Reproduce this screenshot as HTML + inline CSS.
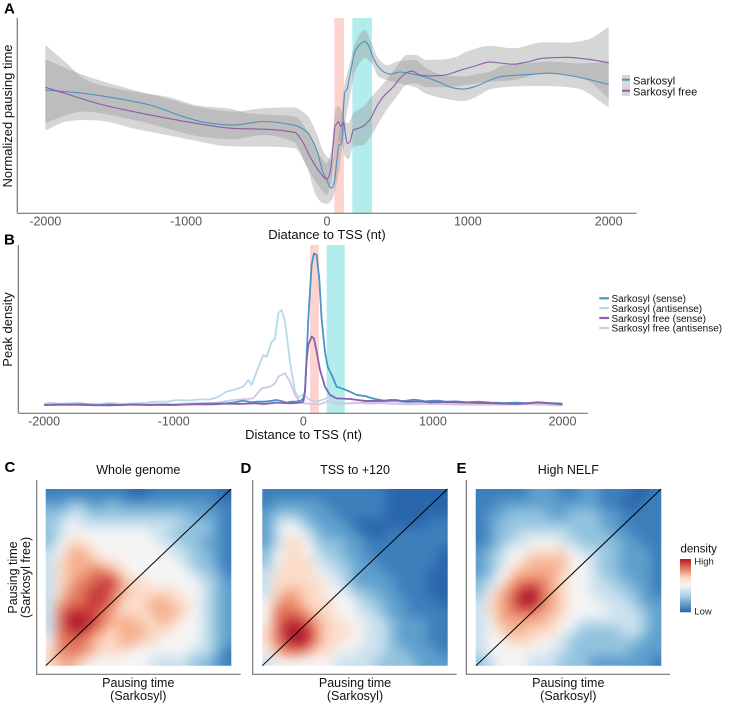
<!DOCTYPE html>
<html lang="en">
<head>
<meta charset="utf-8">
<title>Pausing time and peak density around TSS</title>
<style>
html,body{margin:0;padding:0;background:#fff;width:729px;height:706px;overflow:hidden}
svg{display:block;font-family:"Liberation Sans",Arial,sans-serif}
.tick{font-size:12.5px;fill:#555;text-anchor:middle}
.title{font-size:13px;fill:#111;text-anchor:middle}
.sub{font-size:12.5px;fill:#111;text-anchor:middle}
.panel{font-size:15px;font-weight:bold;fill:#000}
.ax{stroke:#777;stroke-width:1.2;fill:none}
</style>
</head>
<body>
<svg id="figure" width="729" height="706" viewBox="0 0 729 706" xmlns="http://www.w3.org/2000/svg">
  <defs>
    <filter id="soft" filterUnits="userSpaceOnUse" x="0" y="440" width="729" height="266" color-interpolation-filters="sRGB">
      <feGaussianBlur stdDeviation="6"/>
    </filter>
    <clipPath id="clip-c"><rect x="45.7" y="489" width="185.6" height="176.7"/></clipPath>
    <clipPath id="clip-d"><rect x="262.3" y="489" width="185.4" height="176.7"/></clipPath>
    <clipPath id="clip-e"><rect x="475.7" y="489" width="185.6" height="176.7"/></clipPath>
    <linearGradient id="density-gradient" x1="0" y1="0" x2="0" y2="1">
      <stop offset="0" stop-color="#b2182b"/>
      <stop offset=".18" stop-color="#e2795d"/>
      <stop offset=".36" stop-color="#fbdcc9"/>
      <stop offset=".5" stop-color="#f5f5f5"/>
      <stop offset=".7" stop-color="#a6cee3"/>
      <stop offset="1" stop-color="#2a66ab"/>
    </linearGradient>
  </defs>

  <text class="panel" x="4" y="13.5">A</text>
  <g id="panel-a"></g>
  <line class="ax" x1="17.3" y1="18" x2="17.3" y2="213.3"/>
  <line class="ax" x1="17.3" y1="213.3" x2="636.7" y2="213.3"/>
  <g id="ticks-a"></g>
  <text class="title" x="327" y="239">Diatance to TSS (nt)</text>
  <text class="title" transform="translate(12,116) rotate(-90)">Normalized pausing time</text>

  <g>
    <rect x="622" y="75" width="8" height="10.5" fill="#d7d7d7"/>
    <rect x="622" y="85.5" width="8" height="10.5" fill="#d7d7d7"/>
    <line x1="622" x2="630" y1="79.7" y2="79.7" stroke="#4b93c3" stroke-width="2"/>
    <line x1="622" x2="630" y1="90.7" y2="90.7" stroke="#8a5ea8" stroke-width="2"/>
    <text x="633" y="84.5" font-size="11" fill="#111">Sarkosyl</text>
    <text x="633" y="95.5" font-size="11" fill="#111">Sarkosyl free</text>
  </g>

  <text class="panel" x="4" y="244.5">B</text>
  <g id="panel-b"></g>
  <line class="ax" x1="18.3" y1="245" x2="18.3" y2="413.3"/>
  <line class="ax" x1="18.3" y1="413.3" x2="588" y2="413.3"/>
  <g id="ticks-b"></g>
  <text class="title" x="303.5" y="439">Distance to TSS (nt)</text>
  <text class="title" transform="translate(12,329.5) rotate(-90)">Peak density</text>

  <g font-size="10" fill="#111">
    <line x1="599.3" x2="609" y1="298.3" y2="298.3" stroke="#4a94c6" stroke-width="2.2"/>
    <line x1="599.3" x2="609" y1="308.2" y2="308.2" stroke="#b7d9ea" stroke-width="2.2"/>
    <line x1="599.3" x2="609" y1="318" y2="318" stroke="#8a5fae" stroke-width="2.2"/>
    <line x1="599.3" x2="609" y1="328" y2="328" stroke="#d7c4e3" stroke-width="2.2"/>
    <text x="611.5" y="302">Sarkosyl (sense)</text>
    <text x="611.5" y="312">Sarkosyl (antisense)</text>
    <text x="611.5" y="321.8">Sarkosyl free (sense)</text>
    <text x="611.5" y="331.7">Sarkosyl free (antisense)</text>
  </g>

  <text class="panel" x="4.5" y="472">C</text>
  <text class="panel" x="240.5" y="473">D</text>
  <text class="panel" x="456.5" y="473">E</text>

  <text class="sub" x="138.3" y="474">Whole genome</text>
  <text class="sub" x="355" y="474">TSS to +120</text>
  <text class="sub" x="568.3" y="474">High NELF</text>

  <g clip-path="url(#clip-c)"><g id="heat-c" filter="url(#soft)"></g></g>
  <g clip-path="url(#clip-d)"><g id="heat-d" filter="url(#soft)"></g></g>
  <g clip-path="url(#clip-e)"><g id="heat-e" filter="url(#soft)"></g></g>

  <line x1="45.7" y1="665.7" x2="231" y2="489" stroke="#000" stroke-width="1"/>
  <line x1="262.3" y1="665.7" x2="447.5" y2="489" stroke="#000" stroke-width="1"/>
  <line x1="476" y1="665.7" x2="661" y2="489" stroke="#000" stroke-width="1"/>

  <path class="ax" d="M36.7 480V674.3H240.7"/>
  <path class="ax" d="M252.7 480V674.3H456.7"/>
  <path class="ax" d="M466.3 480V674.3H670"/>

  <text class="sub" x="138.3" y="687">Pausing time</text>
  <text class="sub" x="138.3" y="700">(Sarkosyl)</text>
  <text class="sub" x="355" y="687">Pausing time</text>
  <text class="sub" x="355" y="700">(Sarkosyl)</text>
  <text class="sub" x="568.3" y="687">Pausing time</text>
  <text class="sub" x="568.3" y="700">(Sarkosyl)</text>
  <text class="sub" transform="translate(17,577.5) rotate(-90)">Pausing time</text>
  <text class="sub" transform="translate(30,577.5) rotate(-90)">(Sarkosyl free)</text>

  <g>
    <text x="680.5" y="552.5" font-size="11.5" fill="#111">density</text>
    <rect x="680" y="559" width="11" height="53.3" fill="url(#density-gradient)"/>
    <text x="694.3" y="564.5" font-size="9.5" fill="#222">High</text>
    <text x="694.3" y="614.5" font-size="9.5" fill="#222">Low</text>
  </g>
</svg>

<script>
// ---------- shared ----------
var xTicks = [-2000, -1000, 0, 1000, 2000];
var pinkRegion = [52, 120];
var tealRegion = [180, 320];

// ---------- panel A ----------
var sarkosylX = [-2000,-1730,-1493,-1257,-1020,-854,-665,-452,-239,-144,-73,-26,0,21,33,50,68,85,100,111,118,128,140,163,199,234,270,293,329,364,412,447,518,612,707,801,896,967,1061,1156,1250,1416,1582,1700,1842,2000];
var sarkosylY = [41.1,40,38.3,36.1,32.2,30.2,29.4,30.6,29.4,27.2,21.1,13.3,11.1,8.7,8.4,10,16.7,22.8,23.1,26.7,35.6,40.6,41.1,46.1,53.9,56.3,57.3,56.1,51.7,48.9,46.9,46.4,47.1,46.4,45.3,43.6,41.8,41.4,42.4,44.4,45.7,46.2,46.7,46.1,44.8,42.9];
var freeX = [-2000,-1848,-1612,-1375,-1138,-902,-665,-428,-227,-180,-121,-62,0,21,45,57,69,80,97,118,128,144,163,187,222,258,305,353,400,471,518,566,601,660,731,826,897,968,1039,1157,1228,1323,1418,1536,1702,1844,2000];
var freeY = [42,39.8,36.4,33.9,31.7,29.8,28.3,28,26.9,24.4,18.9,14.4,11.4,13.3,23.3,29.1,29.8,30.6,28.9,30.4,27.2,23.3,23.9,27.8,28.3,29.1,31.3,35.6,38.9,42.2,45,46.9,47.4,46.1,45.8,46,46.9,48,48.9,50.4,50.1,49.7,50.4,51.7,52,51.4,50.2];

var sarkosylBandX = [-2000,-1730,-1375,-1138,-902,-665,-452,-239,-144,-73,-26,0,33,69,97,118,163,199,270,317,364,424,518,626,707,826,967,1063,1156,1250,1416,1582,1771,2000];
var sarkosylUpper = [51.3,46.1,41.1,38.3,35.3,33.9,35,35.3,32.8,26.7,20.6,18.9,17.8,23.3,30,41.1,50,56.7,61.1,56.7,51.7,49.4,50.8,51.1,48.3,46.1,45.6,46.4,47.2,49.4,50,50.6,50,50.4];
var sarkosylLower = [30.2,33.9,31.1,28.3,25.6,24.7,26.1,23.9,15.6,5.6,3.3,3.1,4.4,10,17.8,26.7,38.9,47.2,51.7,50,45.6,44.4,43.3,42,39.8,38.3,37.4,38.9,41.3,42,42.4,42.4,41.7,35.3];

var freeBandX = [-2000,-1848,-1730,-1612,-1375,-1138,-902,-712,-545,-379,-227,-144,-73,0,33,57,81,104,128,152,187,258,317,400,495,566,626,708,826,920,991,1157,1323,1536,1702,1844,2000];
var freeUpper = [56.1,50,45,42.8,40.6,38.9,35.8,35,33.3,32.8,32.2,27.8,21.1,16.7,22.2,33.9,35.8,33.9,30.6,30,33.3,35.6,38.9,43.3,48.9,52.8,52.8,51.1,51.3,52.2,53.9,55.8,55,57,56.9,57.8,62.2];
var freeLower = [27.6,30.6,31.1,30.9,28.3,26.1,23.9,22.4,22.2,22.2,21.7,15.6,10,6.1,11.1,21.1,23.9,22.8,18.9,18,22.2,22.8,26.1,32.8,38.9,42.8,43.3,42,42,42.4,42.8,43.9,44.4,46.7,46.1,44.4,38.3];

// ---------- panel B ----------
var senseX = [-2000,-1900,-1800,-1700,-1600,-1500,-1400,-1300,-1200,-1100,-1000,-900,-800,-700,-600,-540,-463,-400,-350,-300,-250,-206,-170,-130,-100,-60,-20,0,13,39,64,82,103,123,141,167,188,219,257,309,360,412,476,532,580,622,670,720,760,802,850,900,940,982,1040,1100,1180,1265,1350,1450,1550,1651,1730,1800,1900,1985,2000];
var senseY = [0,.4,.2,.5,-.2,.3,0,.4,0,.3,0,.4,.7,.9,1.1,1.6,2.9,1.8,2.2,2.2,2.7,3.3,2.7,1.6,2.2,2.2,2.9,4.4,8.9,57.8,93.3,101.1,100,84.4,57.8,35.6,25.6,20,12.2,10.7,8.9,6.7,6,4.4,3.6,2.9,3.4,3.3,2.6,2.9,3.6,3.1,2.4,2.7,2.9,2.2,2.4,1.8,2.2,1.6,1.3,1.6,1.1,1.8,1.3,1.1,.7];
var antisenseX = [-2000,-1950,-1900,-1820,-1749,-1680,-1569,-1500,-1400,-1312,-1220,-1132,-1050,-977,-890,-797,-730,-669,-592,-540,-463,-424,-399,-360,-309,-283,-244,-219,-193,-167,-141,-103,-64,-39,0,39,103,141,193,257,330,400,500,600,700,800,900,1000,1150,1300,1450,1600,1800,2000];
var antisenseY = [.7,1.6,.9,1.1,1.6,.9,.7,1.3,.7,1.1,1.5,2.2,2.2,3.3,3,3.8,3.6,4.9,8.9,10,12.2,16.7,13.3,22.2,33.3,32.2,42.2,44,61.1,63.3,55.6,28.9,8.9,4.9,7.1,4,2.2,3.3,4.9,2.2,1.1,1.1,1.8,1.6,1.1,1.6,1.1,.9,1.3,.4,1.1,.7,.9,.4];
var freeSenseX = [-2000,-1800,-1650,-1500,-1350,-1200,-1000,-850,-700,-600,-500,-380,-300,-200,-100,-20,0,13,25,39,64,82,103,129,167,206,257,360,476,622,720,802,900,982,1120,1265,1450,1651,1820,1920,2000];
var freeSenseY = [0,.3,-.1,-.2,.2,.1,0,.5,.4,.9,.7,1.1,.7,1.6,1.1,1.6,2.2,8.9,28.9,40,45.6,44.4,35.6,23.3,12.2,6.7,4.4,4,2.7,2.7,2.9,2.2,2.4,1.8,2,1.6,1.2,.7,1.8,1,.4];
var freeAntisenseX = [-2000,-1750,-1500,-1250,-977,-800,-669,-540,-386,-321,-257,-219,-193,-141,-103,-64,-26,0,129,193,257,400,500,600,800,1000,1250,1500,1750,2000];
var freeAntisenseY = [0,.3,0,.4,.7,1.3,1.6,3.3,4.4,11.1,12.2,14.4,18.9,21.1,15.6,6.7,2.2,1.1,.4,2.7,.4,1.6,.9,1.1,.4,.7,.2,.2,.5,-.4];

// ---------- heatmaps (rows top to bottom, density 0 low .. 10 high) ----------
var densityWholeGenome = [
[1,1,1,1,1,1,1,1,0,0,1,1,1,1,1,1,1,0],
[2,2,3,3,2,2,3,2,2,2,2,2,2,2,2,2,1,1],
[3,3,4,4,3,3,3,3,3,3,3,3,3,3,2,2,2,1],
[3,4,5,4,4,4,4,4,4,4,4,4,4,3,3,3,2,1],
[3,4,5,5,5,5,5,5,5,5,4,4,3,3,3,3,2,1],
[3,5,6,6,5,5,5,5,5,5,5,4,4,3,3,2,2,1],
[4,5,7,7,6,5,5,5,5,5,5,5,4,4,3,3,2,1],
[4,6,7,7,7,6,6,5,5,5,5,5,5,4,3,3,2,1],
[4,6,7,7,8,8,7,6,5,5,5,5,5,5,4,3,3,1],
[4,6,7,8,8,9,9,7,6,6,5,5,5,5,5,4,3,2],
[4,6,8,8,9,9,8,7,6,6,6,6,6,5,5,4,3,2],
[4,7,8,8,9,9,8,6,6,6,7,7,6,6,5,4,3,2],
[4,8,9,9,9,8,7,6,6,6,7,7,7,6,5,4,3,2],
[4,8,10,10,9,8,7,7,7,6,6,7,6,5,5,4,3,2],
[4,8,9,9,8,7,6,7,7,7,6,6,5,5,5,4,3,2],
[5,8,8,8,7,6,6,7,7,6,6,5,5,5,5,4,3,2],
[6,8,8,8,7,6,6,6,5,5,5,5,5,5,4,4,3,1],
[6,7,7,6,5,5,5,5,5,5,4,4,4,4,3,3,2,1]
];
var densityTss120 = [
[1,1,1,1,1,1,1,1,1,1,1,1,0,0,0,0,0,0],
[1,2,2,2,2,2,1,1,1,1,1,1,0,0,0,0,0,0],
[2,3,3,3,2,2,2,1,1,1,1,1,0,0,0,0,0,0],
[2,4,5,4,3,2,2,2,1,0,0,0,0,0,0,0,1,1],
[2,4,5,5,4,3,2,2,2,1,0,0,1,1,1,1,1,1],
[2,4,6,6,5,3,3,3,2,2,1,1,1,1,1,1,1,1],
[3,5,6,6,5,4,3,3,2,2,1,1,1,1,1,1,1,0],
[3,5,6,6,6,4,4,3,3,2,2,1,1,1,1,1,1,0],
[4,6,6,6,6,5,4,4,3,2,2,2,1,1,1,1,0,0],
[4,6,6,6,6,6,5,4,3,2,2,2,2,1,1,1,0,0],
[4,6,7,7,6,6,5,5,4,3,3,2,2,1,1,1,0,0],
[5,7,8,7,6,6,6,5,5,4,3,3,2,2,1,1,1,0],
[5,8,8,8,7,6,6,5,5,4,4,3,2,2,1,1,1,1],
[5,8,9,9,8,7,6,6,5,5,4,4,3,2,2,2,1,1],
[6,8,10,10,9,7,6,6,6,5,4,4,3,2,2,2,1,1],
[6,8,9,10,9,7,6,6,5,5,4,4,3,2,2,2,1,1],
[5,7,8,8,7,6,6,5,5,4,4,4,3,3,2,2,2,1],
[4,5,5,5,5,5,5,4,4,4,4,3,3,3,3,2,2,2]
];
var densityHighNelf = [
[1,1,1,1,1,2,2,2,1,1,2,2,1,1,1,0,0,1],
[1,1,2,2,2,2,2,2,2,2,2,2,1,1,0,0,1,1],
[1,2,2,3,3,3,3,2,2,3,3,3,2,2,1,1,1,1],
[1,2,3,3,3,3,3,3,3,3,3,3,2,2,1,1,1,1],
[1,2,3,3,4,4,4,4,4,3,3,3,3,2,2,1,1,1],
[1,2,3,4,4,5,5,5,4,4,3,3,3,3,2,2,1,1],
[2,3,4,5,5,6,6,6,6,5,4,4,3,3,2,2,2,1],
[2,3,4,5,6,7,7,7,7,5,5,4,3,3,2,2,2,1],
[2,3,5,6,7,7,7,7,6,5,5,4,3,3,2,2,2,1],
[3,4,5,7,8,8,8,7,6,5,5,4,4,3,3,2,2,1],
[3,5,7,8,9,10,8,7,6,5,5,4,4,4,3,3,2,1],
[4,6,7,8,10,10,8,7,6,5,5,5,4,4,4,3,2,2],
[4,6,7,8,8,8,7,7,6,5,5,5,5,4,4,4,3,2],
[4,5,7,7,7,7,7,6,5,5,4,4,4,4,4,4,3,2],
[4,5,6,7,7,6,6,6,5,4,3,3,3,3,4,4,3,2],
[4,5,5,6,6,6,5,5,4,3,3,3,3,3,3,3,2,2],
[4,5,5,5,5,5,5,4,4,3,3,3,3,3,3,2,2,2],
[3,4,5,5,5,4,4,4,3,3,3,2,2,2,2,2,2,1]
];
var densityColors = ['#2a66ab','#3d7fbb','#5f9fcd','#92c3de','#cbe1ee','#f5f5f5','#fbdcc9','#f6b090','#e2795d','#c8383a','#a80f27'];

var NS = 'http://www.w3.org/2000/svg';
function make(tag, attrs, parent) {
  var el = document.createElementNS(NS, tag);
  for (var k in attrs) el.setAttribute(k, attrs[k]);
  parent.appendChild(el);
  return el;
}

// monotone cubic path through data points
function curve(pts, start) {
  var n = pts.length, d = [], m = [], i;
  for (i = 0; i < n - 1; i++) d[i] = (pts[i + 1][1] - pts[i][1]) / (pts[i + 1][0] - pts[i][0]);
  m[0] = d[0]; m[n - 1] = d[n - 2];
  for (i = 1; i < n - 1; i++) m[i] = d[i - 1] * d[i] <= 0 ? 0 : 2 * d[i - 1] * d[i] / (d[i - 1] + d[i]);
  var s = (start ? 'M' : 'L') + pts[0][0].toFixed(2) + ' ' + pts[0][1].toFixed(2);
  for (i = 0; i < n - 1; i++) {
    var h = (pts[i + 1][0] - pts[i][0]) / 3;
    s += 'C' + (pts[i][0] + h).toFixed(2) + ' ' + (pts[i][1] + m[i] * h).toFixed(2) + ' ' +
         (pts[i + 1][0] - h).toFixed(2) + ' ' + (pts[i + 1][1] - m[i + 1] * h).toFixed(2) + ' ' +
         pts[i + 1][0].toFixed(2) + ' ' + pts[i + 1][1].toFixed(2);
  }
  return s;
}

function zip(xs, ys, sx, sy) {
  return xs.map(function (x, i) { return [sx(x), sy(ys[i])]; });
}

// ---------- draw panel A ----------
var ax = function (v) { return 327 + v * 0.14085; };
var ay = function (v) { return 213.3 - v * 3; };
var gA = document.getElementById('panel-a');

var bandA1 = make('rect', {x: ax(pinkRegion[0]), y: 18, width: ax(pinkRegion[1]) - ax(pinkRegion[0]), height: 195, fill: '#fdd3d0'}, gA);


var bandA2 = make('rect', {x: ax(tealRegion[0]), y: 18, width: ax(tealRegion[1]) - ax(tealRegion[0]), height: 195, fill: '#b2ecec'}, gA);



function ribbonPath(xs, up, lo) {
  var top = zip(xs, up, ax, ay);
  var bottom = zip(xs, lo, ax, ay).reverse();
  return curve(top, true) + curve(bottom, false) + 'Z';
}
var ribbonFree = make('path', {d: ribbonPath(freeBandX, freeUpper, freeLower), fill: '#999', 'fill-opacity': .4}, gA);


var ribbonSark = make('path', {d: ribbonPath(sarkosylBandX, sarkosylUpper, sarkosylLower), fill: '#999', 'fill-opacity': .4}, gA);


var lineSark = make('path', {d: curve(zip(sarkosylX, sarkosylY, ax, ay), true), fill: 'none', stroke: '#4b93c3', 'stroke-width': 1.1}, gA);


var lineFree = make('path', {d: curve(zip(freeX, freeY, ax, ay), true), fill: 'none', stroke: '#8a5ea8', 'stroke-width': 1.1}, gA);



var ticksA = document.getElementById('ticks-a');
xTicks.forEach(function (t) {
  var label = make('text', {'class': 'tick', x: ax(t), y: 225.5}, ticksA);
  label.textContent = String(t);
  
  
});

// ---------- draw panel B ----------
var bx = function (v) { return 303.3 + v * 0.1296; };
var by = function (v) { return 405 - v * 1.5; };
var gB = document.getElementById('panel-b');

var bandB1 = make('rect', {x: bx(pinkRegion[0]), y: 245, width: bx(pinkRegion[1]) - bx(pinkRegion[0]), height: 168, fill: '#fdd3d0'}, gB);


var bandB2 = make('rect', {x: bx(tealRegion[0]), y: 245, width: bx(tealRegion[1]) - bx(tealRegion[0]), height: 168, fill: '#b2ecec'}, gB);



function polyPoints(xs, ys) {
  return zip(xs, ys, bx, by).map(function (p) { return p[0].toFixed(2) + ',' + p[1].toFixed(2); }).join(' ');
}
var lineAnti = make('polyline', {points: polyPoints(antisenseX, antisenseY), fill: 'none', stroke: '#b7d9ea', 'stroke-width': 1.8, 'stroke-linejoin': 'round'}, gB);


var lineFreeAnti = make('polyline', {points: polyPoints(freeAntisenseX, freeAntisenseY), fill: 'none', stroke: '#d7c4e3', 'stroke-width': 1.8, 'stroke-linejoin': 'round'}, gB);


var lineSense = make('polyline', {points: polyPoints(senseX, senseY), fill: 'none', stroke: '#4a94c6', 'stroke-width': 1.8, 'stroke-linejoin': 'round'}, gB);


var lineFreeSense = make('polyline', {points: polyPoints(freeSenseX, freeSenseY), fill: 'none', stroke: '#8a5fae', 'stroke-width': 1.8, 'stroke-linejoin': 'round'}, gB);



var ticksB = document.getElementById('ticks-b');
xTicks.forEach(function (t) {
  var label = make('text', {'class': 'tick', x: bx(t), y: 425.5}, ticksB);
  label.textContent = String(t);
  
  
});

// ---------- draw heatmaps ----------
function densityColor(v) {
  var c = Math.max(0, Math.min(10, v));
  var i = Math.min(9, Math.floor(c)), f = c - i;
  var a = densityColors[i], b = densityColors[i + 1], out = '#';
  for (var k = 1; k < 7; k += 2) {
    var p = parseInt(a.substr(k, 2), 16), q = parseInt(b.substr(k, 2), 16);
    var r = Math.round(p + (q - p) * f).toString(16);
    out += r.length < 2 ? '0' + r : r;
  }
  return out;
}
function drawHeat(id, grid, x0, y0, w, h) {
  var g = document.getElementById(id), rows = grid.length, cols = grid[0].length;
  var cw = w / cols, ch = h / rows, pad = 30;
  grid.forEach(function (row, r) {
    row.forEach(function (v, c) {
      var x = x0 + c * cw, y = y0 + r * ch, wd = cw + .5, ht = ch + .5;
      if (c === 0) { x -= pad; wd += pad; }
      if (c === cols - 1) { wd += pad; }
      if (r === 0) { y -= pad; ht += pad; }
      if (r === rows - 1) { ht += pad; }
      var cell = make('rect', {x: x.toFixed(2), y: y.toFixed(2), width: wd.toFixed(2), height: ht.toFixed(2), fill: densityColor(v)}, g);
      
      
    });
  });
}
drawHeat('heat-c', densityWholeGenome, 45.7, 489, 185.6, 176.7);
drawHeat('heat-d', densityTss120, 262.3, 489, 185.4, 176.7);
drawHeat('heat-e', densityHighNelf, 475.7, 489, 185.6, 176.7);
</script>
</body>
</html>
